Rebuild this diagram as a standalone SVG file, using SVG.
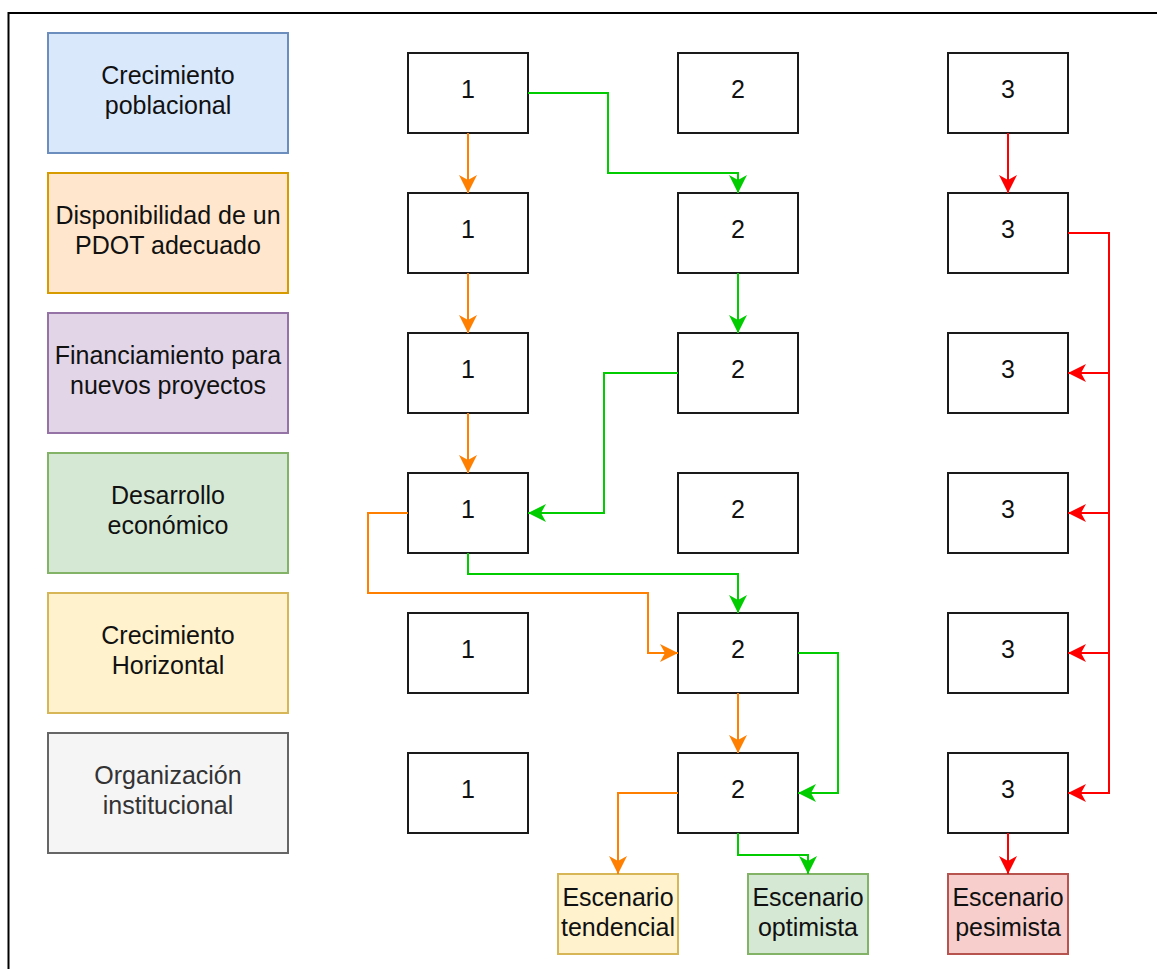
<svg xmlns="http://www.w3.org/2000/svg" width="1157" height="969" viewBox="0 0 1157 969">
<style>
text{font-family:"Liberation Sans",Arial,sans-serif;font-size:25px;fill:#111;text-anchor:middle}
.num{fill:#fff;stroke:#1a1a1a;stroke-width:2}
.c{fill:none;stroke-width:2}
.o{stroke:#ff8000}
.g{stroke:#00cc00}
.r{stroke:#ff0000}
</style>
<defs>
<marker id="ao" markerUnits="userSpaceOnUse" markerWidth="20" markerHeight="20" refX="18" refY="9" orient="auto"><path d="M0,0 L18,9 L0,18 L5,9 Z" fill="#ff8000"/></marker>
<marker id="ag" markerUnits="userSpaceOnUse" markerWidth="20" markerHeight="20" refX="18" refY="9" orient="auto"><path d="M0,0 L18,9 L0,18 L5,9 Z" fill="#00cc00"/></marker>
<marker id="ar" markerUnits="userSpaceOnUse" markerWidth="20" markerHeight="20" refX="18" refY="9" orient="auto"><path d="M0,0 L18,9 L0,18 L5,9 Z" fill="#ff0000"/></marker>
</defs>
<rect width="1157" height="969" fill="#fff"/>
<g id="frame" fill="none" stroke="#000" stroke-width="2">
<path d="M8.5,969 V13 H1157"/>
</g>

<g id="f1"><rect x="48" y="33" width="240" height="120" fill="#dae8fc" stroke="#6c8ebf" stroke-width="2"/><text x="168" y="84">Crecimiento</text><text x="168" y="114">poblacional</text></g>
<g id="f2"><rect x="48" y="173" width="240" height="120" fill="#ffe6cc" stroke="#d79b00" stroke-width="2"/><text x="168" y="224">Disponibilidad de un</text><text x="168" y="254">PDOT adecuado</text></g>
<g id="f3"><rect x="48" y="313" width="240" height="120" fill="#e1d5e7" stroke="#9673a6" stroke-width="2"/><text x="168" y="364">Financiamiento para</text><text x="168" y="394">nuevos proyectos</text></g>
<g id="f4"><rect x="48" y="453" width="240" height="120" fill="#d5e8d4" stroke="#82b366" stroke-width="2"/><text x="168" y="504">Desarrollo</text><text x="168" y="534">económico</text></g>
<g id="f5"><rect x="48" y="593" width="240" height="120" fill="#fff2cc" stroke="#d6b656" stroke-width="2"/><text x="168" y="644">Crecimiento</text><text x="168" y="674">Horizontal</text></g>
<g id="f6"><rect x="48" y="733" width="240" height="120" fill="#f5f5f5" stroke="#666666" stroke-width="2"/><text x="168" y="784" style="fill:#333">Organización</text><text x="168" y="814" style="fill:#333">institucional</text></g>

<g id="n1_1"><rect class="num" x="408" y="53" width="120" height="80"/><text x="468" y="98">1</text></g>
<g id="n1_2"><rect class="num" x="408" y="193" width="120" height="80"/><text x="468" y="238">1</text></g>
<g id="n1_3"><rect class="num" x="408" y="333" width="120" height="80"/><text x="468" y="378">1</text></g>
<g id="n1_4"><rect class="num" x="408" y="473" width="120" height="80"/><text x="468" y="518">1</text></g>
<g id="n1_5"><rect class="num" x="408" y="613" width="120" height="80"/><text x="468" y="658">1</text></g>
<g id="n1_6"><rect class="num" x="408" y="753" width="120" height="80"/><text x="468" y="798">1</text></g>

<g id="n2_1"><rect class="num" x="678" y="53" width="120" height="80"/><text x="738" y="98">2</text></g>
<g id="n2_2"><rect class="num" x="678" y="193" width="120" height="80"/><text x="738" y="238">2</text></g>
<g id="n2_3"><rect class="num" x="678" y="333" width="120" height="80"/><text x="738" y="378">2</text></g>
<g id="n2_4"><rect class="num" x="678" y="473" width="120" height="80"/><text x="738" y="518">2</text></g>
<g id="n2_5"><rect class="num" x="678" y="613" width="120" height="80"/><text x="738" y="658">2</text></g>
<g id="n2_6"><rect class="num" x="678" y="753" width="120" height="80"/><text x="738" y="798">2</text></g>

<g id="n3_1"><rect class="num" x="948" y="53" width="120" height="80"/><text x="1008" y="98">3</text></g>
<g id="n3_2"><rect class="num" x="948" y="193" width="120" height="80"/><text x="1008" y="238">3</text></g>
<g id="n3_3"><rect class="num" x="948" y="333" width="120" height="80"/><text x="1008" y="378">3</text></g>
<g id="n3_4"><rect class="num" x="948" y="473" width="120" height="80"/><text x="1008" y="518">3</text></g>
<g id="n3_5"><rect class="num" x="948" y="613" width="120" height="80"/><text x="1008" y="658">3</text></g>
<g id="n3_6"><rect class="num" x="948" y="753" width="120" height="80"/><text x="1008" y="798">3</text></g>

<g id="s_tend"><rect x="558" y="874" width="120" height="80" fill="#fff2cc" stroke="#d6b656" stroke-width="2"/><text x="618" y="906">Escenario</text><text x="618" y="936">tendencial</text></g>
<g id="s_opt"><rect x="748" y="874" width="120" height="80" fill="#d5e8d4" stroke="#82b366" stroke-width="2"/><text x="808" y="906">Escenario</text><text x="808" y="936">optimista</text></g>
<g id="s_pes"><rect x="948" y="874" width="120" height="80" fill="#f8cecc" stroke="#b85450" stroke-width="2"/><text x="1008" y="906">Escenario</text><text x="1008" y="936">pesimista</text></g>

<g id="connectors">
<path class="c o" d="M468,133 V193" marker-end="url(#ao)"/>
<path class="c o" d="M468,273 V333" marker-end="url(#ao)"/>
<path class="c o" d="M468,413 V473" marker-end="url(#ao)"/>
<path class="c o" d="M408,513 H368 V593 H648 V653 H678" marker-end="url(#ao)"/>
<path class="c o" d="M738,693 V753" marker-end="url(#ao)"/>
<path class="c o" d="M678,793 H618 V874" marker-end="url(#ao)"/>

<path class="c g" d="M528,93 H608 V173 H738 V193" marker-end="url(#ag)"/>
<path class="c g" d="M738,273 V333" marker-end="url(#ag)"/>
<path class="c g" d="M678,373 H604 V513 H528" marker-end="url(#ag)"/>
<path class="c g" d="M468,553 V574 H738 V613" marker-end="url(#ag)"/>
<path class="c g" d="M798,653 H838 V793 H798" marker-end="url(#ag)"/>
<path class="c g" d="M738,833 V855 H808 V874" marker-end="url(#ag)"/>

<path class="c r" d="M1008,133 V193" marker-end="url(#ar)"/>
<path class="c r" d="M1068,233 H1109 V373 H1068" marker-end="url(#ar)"/>
<path class="c r" d="M1109,373 V513 H1068" marker-end="url(#ar)"/>
<path class="c r" d="M1109,513 V653 H1068" marker-end="url(#ar)"/>
<path class="c r" d="M1109,653 V793 H1068" marker-end="url(#ar)"/>
<path class="c r" d="M1008,833 V874" marker-end="url(#ar)"/>
</g>
</svg>
